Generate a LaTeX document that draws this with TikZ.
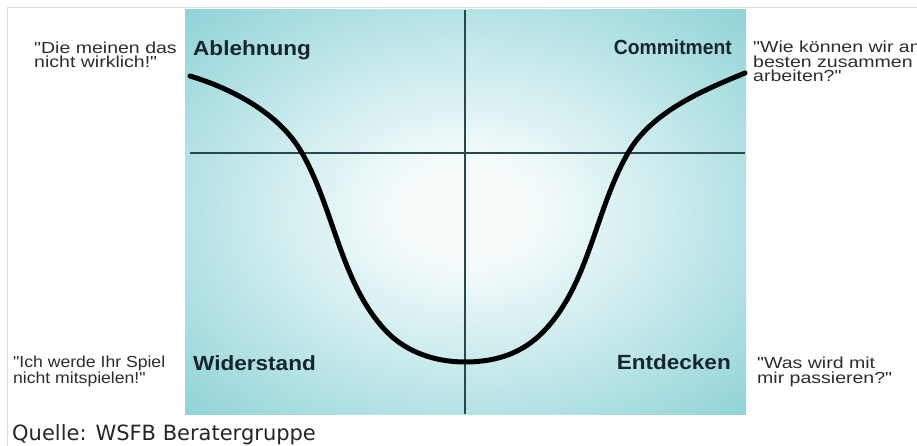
\documentclass[tikz,border=0pt]{standalone}
\usepackage{fontspec}
\setmainfont{Liberation Sans}
\newfontfamily\quotefont[FakeStretch=1.22]{Liberation Sans}
\newfontfamily\quotefontn[FakeStretch=1.1]{Liberation Sans}
\newfontfamily\labelfont[FakeStretch=1.1]{Liberation Sans}
\newfontfamily\capfont{DejaVu Sans}
\definecolor{pedge}{RGB}{92,190,195}
\definecolor{pmid}{RGB}{170,222,225}
\definecolor{pcenter}{RGB}{246,252,252}
\definecolor{axiscol}{RGB}{40,72,78}
\definecolor{labelcol}{RGB}{22,38,44}
\definecolor{quotecol}{RGB}{45,45,45}
\definecolor{framecol}{RGB}{218,218,218}
\pgfdeclareradialshading{panelshade}{\pgfpoint{0bp}{0bp}}{color(0bp)=(pcenter); color(6bp)=(pcenter); color(28bp)=(pmid); color(50bp)=(pedge)}
\begin{document}
\begin{tikzpicture}[x=1pt,y=-1pt,
  quote/.style={font=\quotefont\fontsize{16}{14.5}\selectfont, text=quotecol, align=left, inner sep=0pt, anchor=base west},
  quoten/.style={quote, font=\quotefontn\fontsize{16}{14.5}\selectfont},
  phase/.style={font=\labelfont\bfseries\fontsize{20.5}{23}\selectfont, text=labelcol, inner sep=0pt},
  axis/.style={draw=axiscol, line width=1.6pt},
  curve/.style={draw=black, line width=5pt, line cap=round},
  frame/.style={draw=framecol, line width=1pt}]
\useasboundingbox (0,0) rectangle (917,446);
\clip (0,0) rectangle (917,446);
\fill[white] (0,0) rectangle (917,446);
\draw[frame] (7,450) -- (7,8) -- (920,8);
% panel
\shade[shading=panelshade] (185,10) rectangle (746,414);
% axes
\coordinate (hl) at (190,153);
\coordinate (hr) at (745,153);
\coordinate (vt) at (465,10);
\coordinate (vb) at (465,414);
\draw[axis] (hl) -- (hr);
\draw[axis] (vt) -- (vb);
% change curve
\draw[curve] (190,76) .. controls (233,89) and (280,114) .. (302,153)
  .. controls (334.7,210.3) and (341.3,286.3) .. (388,333)
  .. controls (407,352) and (435,362) .. (465,362)
  .. controls (498,362) and (523,352) .. (542,333)
  .. controls (589,286) and (595,210) .. (628,153)
  .. controls (651.3,112.2) and (701.5,90.9) .. (745,73);
% phase labels
\node[phase, anchor=base west] (ablehnung) at (193,56) {Ablehnung};
\node[phase, anchor=base east] (commitment) at (732,55) {\scalebox{0.855}[1]{Commitment}};
\node[phase, anchor=base west] (widerstand) at (193,370) {Widerstand};
\node[phase, anchor=base east] (entdecken) at (731,369) {Entdecken};
% quotes
\node[quote] (q1) at (34,68) {"Die meinen das\\nicht wirklich!"};
\node[quote] (q2) at (753,82) {"Wie können wir am\\besten zusammen\\arbeiten?"};
\node[quoten] (q3) at (13,383) {"Ich werde Ihr Spiel\\nicht mitspielen!"};
\node[quote] (q4) at (757,383) {"Was wird mit\\mir passieren?"};
% source
\node[font=\capfont\fontsize{21}{24}\selectfont, anchor=base west, inner sep=0pt, text=black!85] (src) at (12,440) {Quelle: WSFB Beratergruppe};
\end{tikzpicture}
\end{document}
